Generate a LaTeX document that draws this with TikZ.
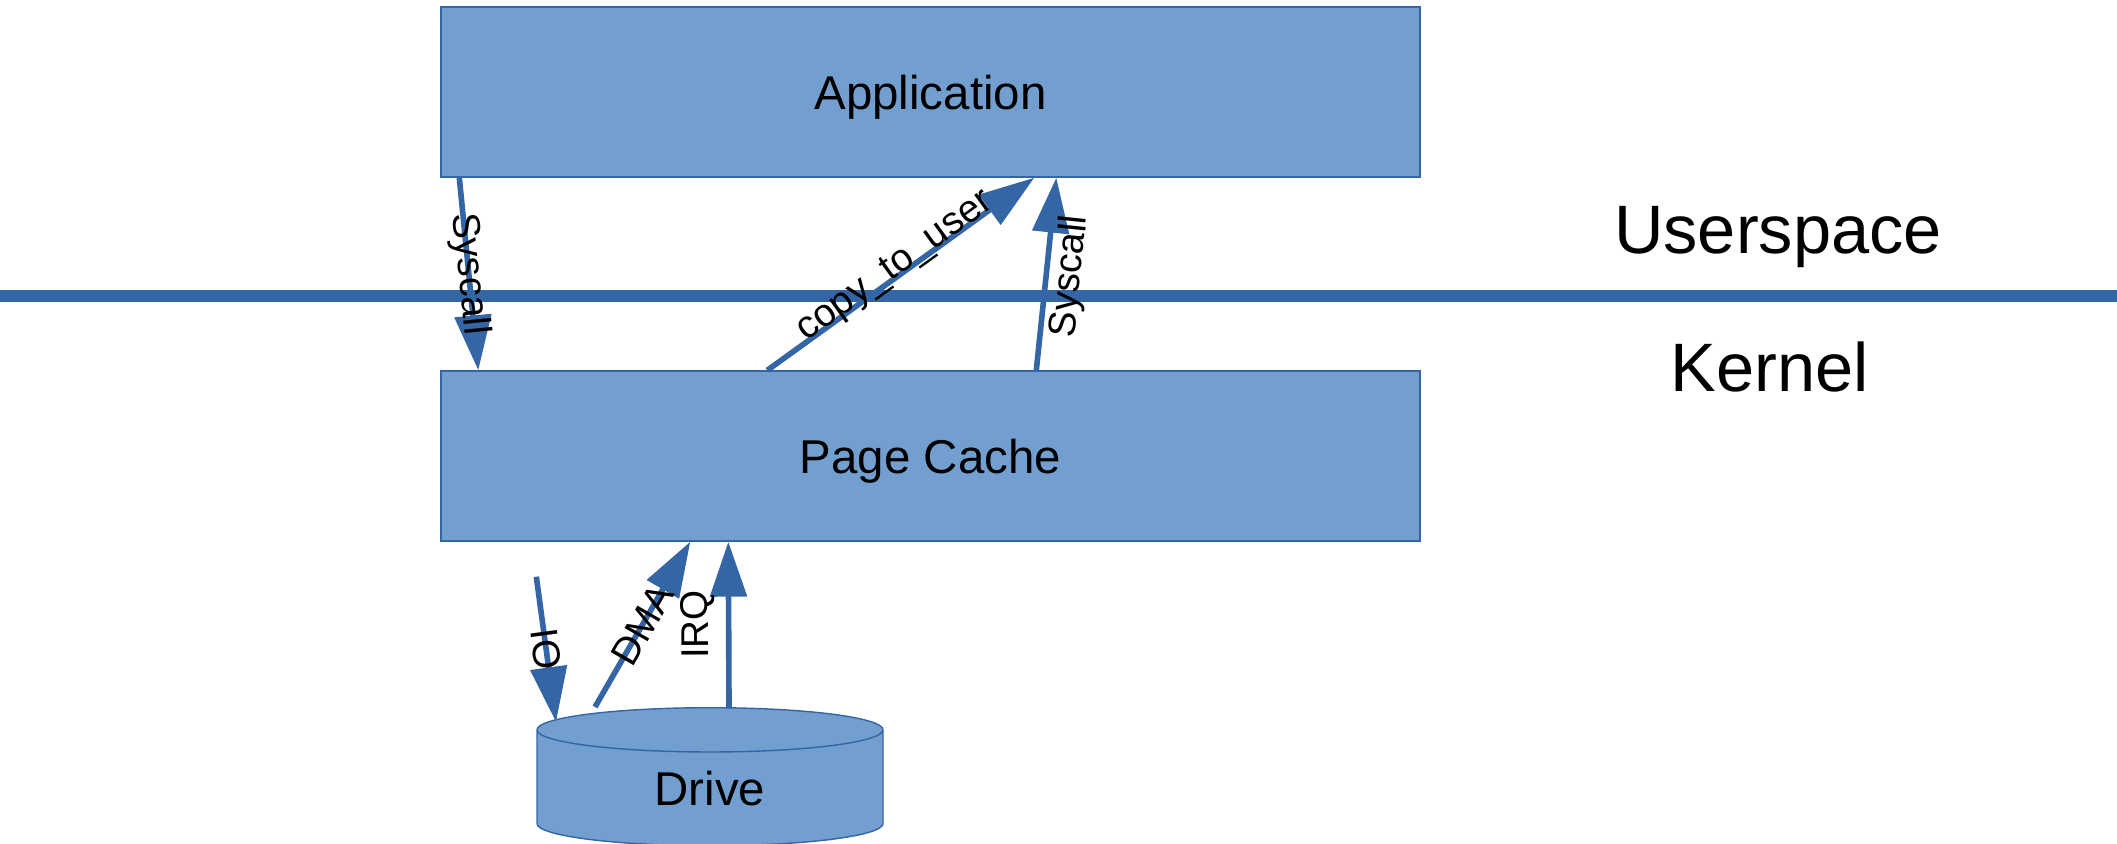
\documentclass[tikz,border=0pt]{standalone}
\usepackage{fontspec}
\setmainfont{Liberation Sans}
\usetikzlibrary{arrows.meta,shapes.geometric}
\definecolor{boxfill}{HTML}{729FCF}
\definecolor{boxline}{HTML}{3465A4}
\begin{document}
\begin{tikzpicture}[%
% common options for the boxes:
box/.style = {rectangle, draw=boxline, fill=boxfill, line width=0.4pt,
            minimum width=9.79cm, minimum height=1.70cm, inner sep=0,
            text depth=0pt, font=\fontsize{13.5}{16}\selectfont},
% common options for the arrows:
flow/.style = {draw=boxline, line width=1.6pt,
            -{Triangle[length=0.55cm, width=0.36cm]}},
% common options for the arrow labels:
lbl/.style = {font=\fontsize{11}{13}\selectfont, inner sep=1pt},
% common options for the side titles:
side/.style = {text depth=0pt, font=\fontsize{19.5}{23}\selectfont}]
\useasboundingbox (0,0) rectangle (21.17,-8.44);
\node[box] (App) at (9.305,-0.92) {Application};
\node[box] (Cache) at (9.305,-4.56) {Page Cache};
\node[cylinder, shape border rotate=90, aspect=0.4, draw=boxline, fill=boxfill,
      line width=0.4pt, minimum width=3.46cm, minimum height=1.38cm, inner sep=0,
      font=\fontsize{13.5}{16}\selectfont, anchor=north] (Drive) at (7.10,-7.07) {Drive};
\node[side] (User) at (17.78,-2.30) {Userspace};
\node[side] (Kern) at (17.70,-3.67) {Kernel};
\draw[boxline, line width=3.4pt] (0,-2.96) -- (21.17,-2.96);
\draw[flow] ([xshift=0.19cm]App.south west) to node[lbl, midway, sloped] {Syscall} ([xshift=0.38cm]Cache.north west);
\draw[flow] ([xshift=3.27cm]Cache.north west) to node[lbl, midway, sloped, anchor=base] {copy\_to\_user} ([xshift=5.94cm]App.south west);
\draw[flow] ([xshift=5.96cm]Cache.north west) to node[lbl, midway, sloped, below] {Syscall} ([xshift=6.16cm]App.south west);
\draw[flow] ([xshift=0.96cm,yshift=-0.35cm]Cache.south west) to node[lbl, midway, sloped] {IO} ([xshift=-1.54cm,yshift=-0.15cm]Drive.north);
\draw[flow] ([xshift=-1.15cm]Drive.north) to node[lbl, midway, sloped] {DMA} ([xshift=2.50cm]Cache.south west);
\draw[flow] ([xshift=0.19cm]Drive.north) to node[lbl, midway, sloped, allow upside down, above=2pt] {IRQ} ([xshift=2.88cm]Cache.south west);
\end{tikzpicture}
\end{document}
